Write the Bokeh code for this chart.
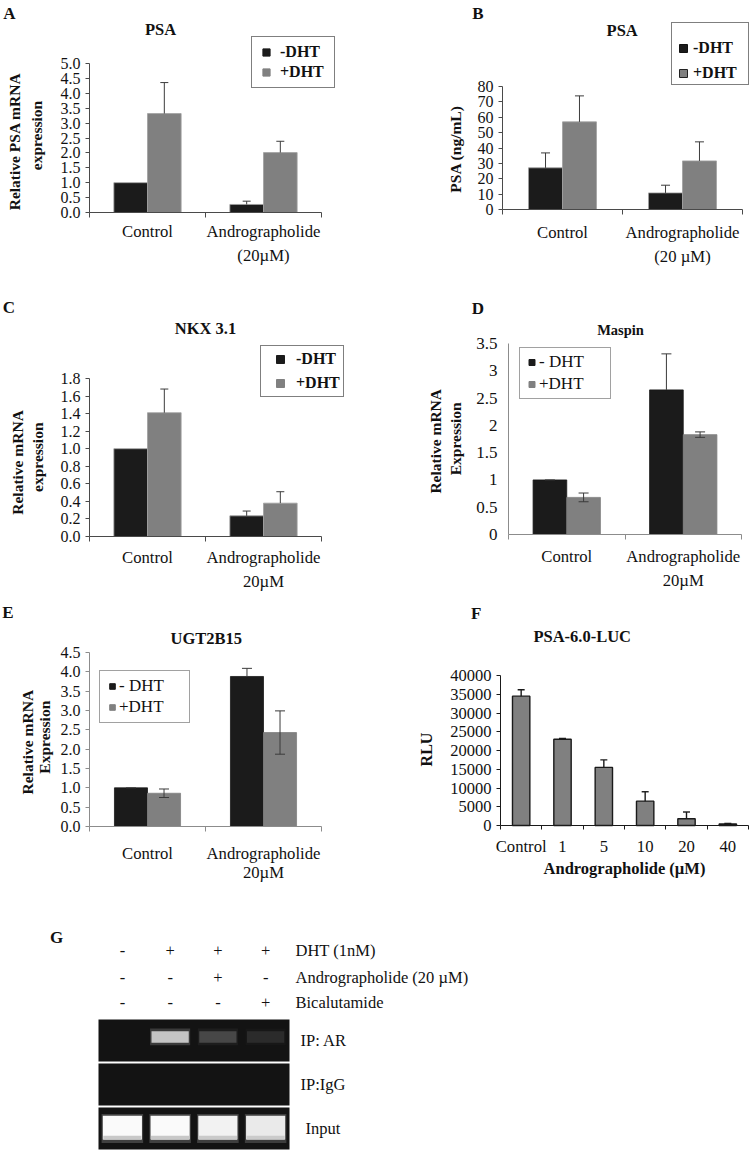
import numpy as np
from bokeh.plotting import figure
from bokeh.layouts import column, row
from bokeh.models import (Range1d, LinearAxis, FixedTicker, SingleIntervalTicker,
                          NumeralTickFormatter, Label, LabelSet, Legend, LegendItem,
                          Whisker, TeeHead, ColumnDataSource)
from bokeh.core.properties import value
from bokeh.embed import file_html
from bokeh.resources import INLINE

FONT = "Liberation Serif"
BLACK_BAR = "#1b1b1b"
GREY_BAR = "#808080"
TXT = "#111111"

# ---------------- data ----------------
groups = ["Control", "Andrographolide"]
dht_labels = ["-DHT", "+DHT"]
dht_labels_sp = ["- DHT", "+DHT"]

# A  PSA mRNA
a_minus = [1.00, 0.27]
a_minus_err = [0.00, 0.11]
a_plus = [3.32, 2.01]
a_plus_err = [1.04, 0.38]
a_xlabels = ["Control", "Andrographolide\n(20µM)"]

# B  PSA protein (ng/mL)
b_minus = [27.1, 10.8]
b_minus_err = [9.7, 5.0]
b_plus = [57.0, 31.6]
b_plus_err = [16.9, 12.4]
b_xlabels = ["Control", "Andrographolide\n(20 µM)"]

# C  NKX 3.1
c_minus = [1.00, 0.235]
c_minus_err = [0.00, 0.055]
c_plus = [1.41, 0.38]
c_plus_err = [0.27, 0.13]
c_xlabels = ["Control", "Andrographolide\n20µM"]

# D  Maspin
d_minus = [1.00, 2.65]
d_minus_err = [0.00, 0.66]
d_plus = [0.68, 1.83]
d_plus_err = [0.08, 0.05]
d_xlabels = ["Control", "Andrographolide\n20µM"]

# E  UGT2B15
e_minus = [1.00, 3.88]
e_minus_err = [0.00, 0.21]
e_plus = [0.86, 2.43]
e_plus_err = [0.11, 0.56]
e_xlabels = ["Control", "Andrographolide\n20µM"]

# F  PSA-6.0-LUC
f_doses = ["Control", "1", "5", "10", "20", "40"]
f_rlu = [34500, 23000, 15500, 6500, 1800, 400]
f_rlu_err = [1700, 200, 2000, 2500, 1800, 150]

# G  ChIP gel
g_lanes = [0, 1, 2, 3]
g_dht = ["-", "+", "+", "+"]
g_andro = ["-", "-", "+", "-"]
g_bica = ["-", "-", "-", "+"]
g_treatments = ["DHT (1nM)", "Andrographolide (20 µM)", "Bicalutamide"]
g_rows = ["Input", "IP:IgG", "IP: AR"]
g_ar_signal = [0.0, 0.85, 0.22, 0.10]
g_igg_signal = [0.0, 0.0, 0.0, 0.0]
g_input_signal = [1.0, 1.0, 0.96, 0.92]


# ---------------- helpers ----------------
class Panel:
    """A figure whose frame is its whole canvas; the plot area (FL..FR, FT..FB, page px)
    maps the data extents xd, yd."""
    def __init__(self, ox, oy, w, h, FL, FR, FT, FB, xd, yd):
        self.ox, self.oy, self.w, self.h = ox, oy, w, h
        self.xd, self.yd = xd, yd
        kx = (xd[1] - xd[0]) / (FR - FL)
        ky = (yd[1] - yd[0]) / (FB - FT)
        xr = Range1d(xd[0] - (FL - ox) * kx, xd[1] + (ox + w - FR) * kx)
        yr = Range1d(yd[0] - (oy + h - FB) * ky, yd[1] + (FT - oy) * ky)
        self.p = figure(width=w, height=h, x_range=xr, y_range=yr,
                        min_border=0, min_border_left=0, min_border_right=0,
                        min_border_top=0, min_border_bottom=0,
                        toolbar_location=None, output_backend="svg",
                        x_axis_type=None, y_axis_type=None)
        self.p.title.visible = False
        self.p.outline_line_color = None
        self.p.background_fill_color = "white"
        self.p.border_fill_color = "white"

    def sx(self, X):
        return X - self.ox

    def sy(self, Y):
        return self.oy + self.h - Y

    def text(self, t, X, Y, size, bold=False, angle=0, align="center",
             baseline="middle", color=TXT):
        self.p.add_layout(Label(x=self.sx(X), y=self.sy(Y), x_units="screen", y_units="screen",
                                text=t, text_font=FONT, text_font_size=f"{size}px",
                                text_font_style="bold" if bold else "normal",
                                angle=angle, angle_units="deg", text_align=align,
                                text_baseline=baseline, text_color=color))

    def legend(self, labels, fills, lines, box_left, box_top, padding, gw, gh, spacing,
               standoff, lw, size, bold, border_color="#000000", border_width=1,
               title_size=None, title_h=0):
        items = []
        for lab_, f, l in zip(labels, fills, lines):
            # legend proxy: a single NaN point, nothing is drawn in the plot area
            r = self.p.scatter(x=[np.nan], y=[np.nan], marker="square", fill_color=f,
                               line_color=l, line_width=1)
            items.append(LegendItem(label=lab_, renderers=[r]))
        n = len(items)
        box_h = 2 * padding + n * gh + (n - 1) * spacing + title_h
        leg = Legend(items=items, location=(self.sx(box_left), self.sy(box_top + box_h)),
                     padding=padding, spacing=spacing, margin=0,
                     glyph_width=gw, glyph_height=gh, label_height=gh, label_width=lw,
                     label_standoff=standoff, label_text_font=FONT,
                     label_text_font_size=f"{size}px",
                     label_text_font_style="bold" if bold else "normal",
                     label_text_color=TXT,
                     border_line_color=border_color, border_line_width=border_width,
                     background_fill_color="white", background_fill_alpha=1.0)
        if title_size is not None:
            leg.title = " "
            leg.title_text_font_size = f"{title_size}px"
            leg.title_standoff = 0
        self.p.add_layout(leg, "center")


def y_axis(pn, interval, fmt, size, tick_out, standoff, color):
    ax = LinearAxis(ticker=SingleIntervalTicker(interval=interval, num_minor_ticks=0),
                    formatter=NumeralTickFormatter(format=fmt),
                    fixed_location=pn.xd[0],
                    bounds=(pn.yd[0], pn.yd[1] * 1.0000001))
    ax.axis_line_color = color
    ax.major_tick_line_color = color if tick_out > 0 else None
    ax.major_tick_out = tick_out
    ax.major_tick_in = 0
    ax.minor_tick_line_color = None
    ax.major_label_standoff = standoff
    ax.major_label_text_font = FONT
    ax.major_label_text_font_size = f"{size}px"
    ax.major_label_text_color = TXT
    pn.p.add_layout(ax, "left")
    return ax


def cat_axis(pn, labels, size, standoff, line_h, color, tick_out=5):
    n = len(labels)
    ax = LinearAxis(ticker=FixedTicker(ticks=list(range(n)),
                                       minor_ticks=[i - 0.5 for i in range(n + 1)]),
                    major_label_overrides={i: l for i, l in enumerate(labels)},
                    fixed_location=pn.yd[0], bounds=(pn.xd[0], pn.xd[1]))
    ax.axis_line_color = color
    ax.major_tick_line_color = None
    ax.major_tick_out = 0
    ax.major_tick_in = 0
    ax.minor_tick_line_color = color
    ax.minor_tick_out = tick_out
    ax.minor_tick_in = 0
    ax.major_label_standoff = standoff
    ax.major_label_text_font = FONT
    ax.major_label_text_font_size = f"{size}px"
    ax.major_label_text_line_height = line_h
    ax.major_label_text_color = TXT
    pn.p.add_layout(ax, "below")
    return ax


def pair_bars(p, minus, minus_err, plus, plus_err, bar_w, bar_line, err_color, cap,
              modes=("up", "up"), keep_zero=False):
    idx = np.arange(len(minus))
    xs = [idx - bar_w / 2, idx + bar_w / 2]
    vals = [np.array(minus, float), np.array(plus, float)]
    errs = [np.array(minus_err, float), np.array(plus_err, float)]
    fills = [BLACK_BAR, GREY_BAR]
    for x, v, f in zip(xs, vals, fills):
        p.vbar(x=x, top=v, bottom=0, width=bar_w, fill_color=f,
               line_color=bar_line if bar_line else f, line_width=0.8)
    for x, v, e, mode in zip(xs, vals, errs, modes):
        keep = np.ones(len(e), bool) if keep_zero else e > 0
        if mode == "both":
            src = ColumnDataSource(dict(base=x[keep], lower=(v - e)[keep], upper=(v + e)[keep]))
            low = TeeHead(size=cap, line_color=err_color, line_width=1)
        else:
            src = ColumnDataSource(dict(base=x[keep], lower=v[keep], upper=(v + e)[keep]))
            low = None
        p.add_layout(Whisker(source=src, base="base", lower="lower", upper="upper",
                             dimension="height", line_color=err_color, line_width=1,
                             upper_head=TeeHead(size=cap, line_color=err_color, line_width=1),
                             lower_head=low, level="annotation"))


AX1 = "#4a4a4a"
AX2 = "#8c8c8c"
XL = 16.7   # category label size
TS = 16.5   # panel title size

# ---------------- Panel A ----------------
A = Panel(0, 0, 375, 270, 89, 321, 63, 212, (-0.5, 1.5), (0, 5.0))
pair_bars(A.p, a_minus, a_minus_err, a_plus, a_plus_err, 0.29, "#a0a0a0", "#3c3c3c", 8)
y_axis(A, 0.5, "0.0", 16, 4, 5, AX1)
cat_axis(A, a_xlabels, XL, 4, 1.3, AX1)
A.text("A", 9, 12.5, 17, bold=True)
A.text("PSA", 160, 28.5, TS, bold=True)
A.text("Relative  PSA mRNA", 14, 139, 15.5, bold=True, angle=90)
A.text("expression", 35.5, 135, 15.5, bold=True, angle=90)
A.legend(dht_labels, [BLACK_BAR, GREY_BAR], [BLACK_BAR, GREY_BAR], 251, 38,
         padding=5, gw=18, gh=20, spacing=0, standoff=5, lw=49, size=16, bold=True)

# ---------------- Panel B ----------------
B = Panel(375, 0, 376, 270, 502, 742, 86, 209, (-0.5, 1.5), (0, 80))
pair_bars(B.p, b_minus, b_minus_err, b_plus, b_plus_err, 0.283, "#a0a0a0", "#3c3c3c", 9)
y_axis(B, 10, "0", 16, 4, 5, AX1)
cat_axis(B, b_xlabels, XL, 8, 1.3, AX1)
B.text("B", 477.5, 12.5, 17, bold=True)
B.text("PSA", 621.7, 29.5, TS, bold=True)
B.text("PSA (ng/mL)", 455, 148.5, 15.5, bold=True, angle=90)
B.legend(dht_labels, [BLACK_BAR, GREY_BAR], ["#111111", "#222222"], 671, 22,
         padding=1, gw=20, gh=20, spacing=5, standoff=0, lw=54, size=16, bold=True,
         border_width=1.5, title_size=12, title_h=16)

# ---------------- Panel C ----------------
C = Panel(0, 270, 375, 322, 89, 321, 378, 536, (-0.5, 1.5), (0, 1.8))
pair_bars(C.p, c_minus, c_minus_err, c_plus, c_plus_err, 0.29, "#a0a0a0", "#3c3c3c", 8)
y_axis(C, 0.2, "0.0", 16, 4, 5, AX1)
cat_axis(C, c_xlabels, XL, 6, 1.3, AX1)
C.text("C", 8.3, 306.7, 17, bold=True)
C.text("NKX 3.1", 205, 328.3, TS, bold=True)
C.text("Relative  mRNA", 17, 460, 15.5, bold=True, angle=90)
C.text("expression", 36.5, 456.7, 15.5, bold=True, angle=90)
C.legend(dht_labels, [BLACK_BAR, GREY_BAR], [BLACK_BAR, GREY_BAR], 260, 347,
         padding=3, gw=32, gh=20, spacing=4, standoff=0, lw=40, size=16, bold=True)

# ---------------- Panel D ----------------
D = Panel(375, 270, 376, 322, 508, 741, 343, 534, (-0.5, 1.5), (0, 3.5))
pair_bars(D.p, d_minus, d_minus_err, d_plus, d_plus_err, 0.289, None, "#3a3a3a", 10,
          modes=("up", "both"), keep_zero=True)
y_axis(D, 0.5, "0.[0]", 17, 0, 11, AX2)
cat_axis(D, d_xlabels, XL, 7, 1.3, AX2)
D.text("D", 477.5, 307.5, 17, bold=True)
D.text("Maspin", 620, 329, 14.5, bold=True)
D.text("Relative mRNA", 435, 440.8, 15.5, bold=True, angle=90)
D.text("Expression", 455, 438.3, 15.5, bold=True, angle=90)
D.legend(dht_labels_sp, [BLACK_BAR, GREY_BAR], [BLACK_BAR, GREY_BAR], 519, 348.7,
         padding=4, gw=15, gh=20, spacing=2, standoff=0, lw=67, size=17, bold=False,
         border_color="#444444")

# ---------------- Panel E ----------------
E = Panel(0, 592, 375, 303, 89, 321, 652, 826, (-0.5, 1.5), (0, 4.5))
pair_bars(E.p, e_minus, e_minus_err, e_plus, e_plus_err, 0.285, None, "#3a3a3a", 10,
          modes=("up", "both"), keep_zero=True)
y_axis(E, 0.5, "0.0", 16, 4, 5, AX2)
cat_axis(E, e_xlabels, XL, 12, 1.0, AX2)
E.text("E", 7.5, 611.7, 17, bold=True)
E.text("UGT2B15", 205.8, 638, TS, bold=True)
E.text("Relative mRNA", 26.5, 741.7, 15.5, bold=True, angle=90)
E.text("Expression", 44, 736.7, 15.5, bold=True, angle=90)
E.legend(dht_labels_sp, [BLACK_BAR, GREY_BAR], [BLACK_BAR, GREY_BAR], 99, 672,
         padding=5, gw=14, gh=20, spacing=1, standoff=0, lw=65, size=17, bold=False,
         border_color="#444444")

# ---------------- Panel F ----------------
F = Panel(375, 592, 376, 303, 500, 748, 675, 825, (-0.5, 5.5), (0, 40000))
fx = np.arange(len(f_doses))
F.p.vbar(x=fx, top=f_rlu, bottom=0, width=0.42, fill_color=GREY_BAR,
         line_color="#1a1a1a", line_width=1.4)
f_src = ColumnDataSource(dict(base=fx, lower=np.array(f_rlu, float),
                              upper=np.array(f_rlu, float) + np.array(f_rlu_err, float)))
F.p.add_layout(Whisker(source=f_src, base="base", lower="lower", upper="upper",
                       dimension="height", line_color="#1a1a1a", line_width=1.4,
                       upper_head=TeeHead(size=7, line_color="#1a1a1a", line_width=1.4),
                       lower_head=None, level="annotation"))
y_axis(F, 5000, "0", 16.5, 4, 5, "#1a1a1a")
fax = cat_axis(F, f_doses, XL, 7, 1.2, "#1a1a1a", tick_out=4)
fax.axis_label = "Andrographolide (µM)"
fax.axis_label_text_font = FONT
fax.axis_label_text_font_size = "16.5px"
fax.axis_label_text_font_style = "bold"
fax.axis_label_text_color = TXT
fax.axis_label_standoff = 0
F.text("F", 475.8, 613.3, 17, bold=True)
F.text("PSA-6.0-LUC", 581.7, 635.8, TS, bold=True)
F.text("RLU", 425.8, 749, 16, bold=True, angle=90)

# ---------------- Panel G ----------------
G = Panel(0, 895, 751, 259, 98, 289, 1018, 1150, (-0.5, 3.5), (0, 3))
gp = G.p
ridx = np.arange(len(g_rows))
gp.quad(left=G.xd[0], right=G.xd[1], bottom=ridx + 0.025, top=ridx + 0.975,
        fill_color="#131313", line_color=None)
lanes = np.array(g_lanes, float)
ar = np.array(g_ar_signal)
inp = np.array(g_input_signal)
igg = np.array(g_igg_signal)
# AR IP row (index 2)
gp.rect(x=lanes, y=2 + 0.58, width=0.84, height=0.38, fill_color="#7a7a7a",
        fill_alpha=0.45 * ar, line_color=None)
gp.rect(x=lanes, y=2 + 0.58, width=0.78, height=0.26, fill_color="#dddddd",
        fill_alpha=ar, line_color=None)
# IgG row (index 1)
gp.rect(x=lanes, y=1 + 0.58, width=0.78, height=0.26, fill_color="#dddddd",
        fill_alpha=igg, line_color=None)
# Input row (index 0)
gp.rect(x=lanes, y=0.5, width=0.87, height=0.66, fill_color="#6e6e6e",
        fill_alpha=0.5 * inp, line_color=None)
gp.rect(x=lanes, y=0.52, width=0.82, height=0.54, fill_color="#fafafa",
        fill_alpha=inp, line_color=None)
gp.rect(x=lanes, y=0.29, width=0.8, height=0.09, fill_color="#c8c8c8",
        fill_alpha=inp, line_color=None)

g_src = ColumnDataSource(dict(lane=g_lanes, dht=g_dht, andro=g_andro, bica=g_bica))
for col, Y in zip(["dht", "andro", "bica"], [950, 977, 1002]):
    gp.add_layout(LabelSet(source=g_src, x="lane", y=G.sy(Y), y_units="screen", text=col,
                           text_font=value(FONT), text_font_size="16.5px", text_color=TXT,
                           text_align="center", text_baseline="middle"))
for t, Y in zip(g_treatments, [950, 977, 1002]):
    G.text(t, 295, Y, 16.5, align="left")
for t, r, X in zip(g_rows, ridx, [305, 300, 300]):
    gp.add_layout(Label(x=G.sx(X), y=r + 0.5, x_units="screen", y_units="data", text=t,
                        text_font=FONT, text_font_size="16.5px", text_color=TXT,
                        text_align="left", text_baseline="middle"))
G.text("G", 56, 937, 17, bold=True)

layout = column(row(A.p, B.p), row(C.p, D.p), row(E.p, F.p), G.p)
open("out.html", "w").write(file_html(layout, INLINE, title="Andrographolide figure"))
